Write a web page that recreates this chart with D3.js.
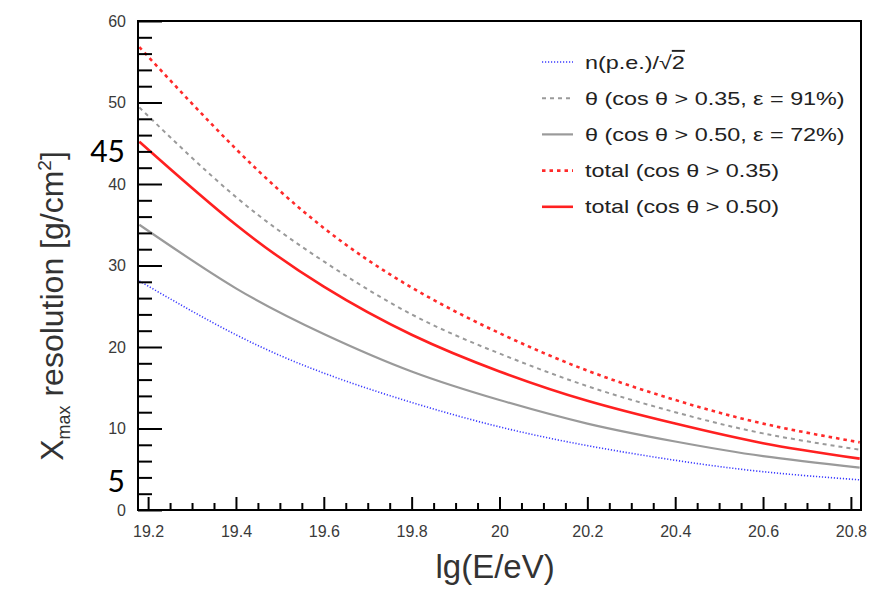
<!DOCTYPE html>
<html>
<head>
<meta charset="utf-8">
<script src="https://cdn.jsdelivr.net/npm/d3@7"></script>
<style>
  body { margin: 0; background: #fff; }
  svg { display: block; font-family: "Liberation Sans", Arial, sans-serif; }
  .tick text { fill: #3a3a3a; font-size: 16px; }
</style>
</head>
<body>
<div id="chart"></div>
<script>
var lgE = [19.18, 19.4, 19.6, 19.8, 20.0, 20.2, 20.4, 20.6, 20.82]

// Xmax resolution in g/cm2
var pe       = [28.1, 21.5, 16.8, 13.2, 10.2, 7.9, 6.1, 4.7, 3.7]
var theta35  = [49.4, 38.4, 30.5, 24.0, 19.2, 15.2, 12.0, 9.4, 7.4]
var theta50  = [35.0, 27.2, 21.6, 17.0, 13.5, 10.6, 8.4, 6.6, 5.2]
var total35  = [56.8, 44.3, 34.6, 27.3, 21.7, 17.1, 13.5, 10.6, 8.3]
var total50  = [45.2, 35.0, 27.4, 21.5, 17.0, 13.4, 10.6, 8.2, 6.3]

var xMajor = [19.2, 19.4, 19.6, 19.8, 20, 20.2, 20.4, 20.6, 20.8]
var yMajor = [0, 10, 20, 30, 40, 50, 60]
// big labels pasted on top of the axis in the original
var extraLabels = [{text: '45', v: 44}, {text: '5', v: 3.5}]

var series = [
  {name: 'pe',      vals: pe,      color: '#3b3bff', width: 1.6, dash: '1.2,1.8'},
  {name: 'theta35', vals: theta35, color: '#9a9a9a', width: 2,   dash: '4,4'},
  {name: 'theta50', vals: theta50, color: '#9a9a9a', width: 2.2, dash: null},
  {name: 'total35', vals: total35, color: '#ff2a2a', width: 2.6, dash: '3.5,4'},
  {name: 'total50', vals: total50, color: '#ff2020', width: 2.6, dash: null}
]

var W = 884, H = 599
var m = {left: 138, right: 23, top: 21, bottom: 89}
var svg = d3.select('#chart').append('svg').attr('width', W).attr('height', H)
var g = svg.append('g').attr('transform', 'translate(' + m.left + ',' + m.top + ')')
var w = W - m.left - m.right, h = H - m.top - m.bottom

var x = d3.scaleLinear().domain([19.177, 20.823]).range([0, w])
var y = d3.scaleLinear().domain([0, 60]).range([h, 0])

// curves
var line = d3.line().x(function(d){ return x(d[0]) }).y(function(d){ return y(d[1]) }).curve(d3.curveNatural)
series.forEach(function(s){
  g.append('path')
    .datum(lgE.map(function(e, i){ return [e, s.vals[i]] }))
    .attr('d', line)
    .attr('fill', 'none')
    .attr('stroke', s.color)
    .attr('stroke-width', s.width)
    .attr('stroke-dasharray', s.dash)
})

// minor ticks
var yMinor = d3.range(0, 61, 2).filter(function(v){ return v % 10 })
var xMinor = d3.range(19.2, 20.81, 0.05).filter(function(v){ return Math.abs(v * 5 - Math.round(v * 5)) > 0.01 })

g.append('g').call(d3.axisLeft(y).tickValues(yMinor).tickSize(-14).tickFormat(''))
g.append('g').call(d3.axisLeft(y).tickValues(yMajor).tickSize(-24).tickPadding(12))
g.append('g').attr('transform', 'translate(0,' + h + ')')
  .call(d3.axisBottom(x).tickValues(xMinor).tickSize(-7).tickFormat(''))
g.append('g').attr('transform', 'translate(0,' + h + ')')
  .call(d3.axisBottom(x).tickValues(xMajor).tickSize(-13).tickPadding(16).tickFormat(d3.format('')))

g.selectAll('.domain').remove()
g.selectAll('.tick line').attr('stroke', '#000').attr('stroke-width', 2)

// frame
g.append('rect').attr('width', w).attr('height', h)
  .attr('fill', 'none').attr('stroke', '#000').attr('stroke-width', 2)

// pasted labels
g.selectAll('text.extra').data(extraLabels).enter().append('text')
  .attr('class', 'extra')
  .attr('x', -13).attr('y', function(d){ return y(d.v) })
  .attr('dy', '0.36em')
  .attr('text-anchor', 'end')
  .style('font-family', 'Lato, "Open Sans", sans-serif')
  .style('font-size', '30px')
  .attr('fill', '#000')
  .text(function(d){ return d.text })

// axis titles
svg.append('text')
  .attr('x', x(19.99) + m.left).attr('y', 578)
  .attr('text-anchor', 'middle')
  .style('font-size', '33px').attr('fill', '#333')
  .text('lg(E/eV)')

var yt = svg.append('text')
  .attr('transform', 'translate(63,306) rotate(-90)')
  .attr('text-anchor', 'middle')
  .style('font-size', '32px').attr('fill', '#333')
yt.append('tspan').text('X')
yt.append('tspan').attr('dy', 7).style('font-size', '18px').text('max')
yt.append('tspan').attr('dy', -7).text(' resolution [g/cm')
yt.append('tspan').attr('dy', -12).style('font-size', '19px').text('2')
yt.append('tspan').attr('dy', 12).text(']')

// legend
var legendLabels = [
  null,
  'θ (cos θ > 0.35, ε = 91%)',
  'θ (cos θ > 0.50, ε = 72%)',
  'total (cos θ > 0.35)',
  'total (cos θ > 0.50)'
]
var leg = svg.append('g').attr('transform', 'translate(542,62)')
series.forEach(function(s, i){
  var row = leg.append('g').attr('transform', 'translate(0,' + (i * 36.2) + ')')
  row.append('line').attr('x1', 0).attr('x2', 31)
    .attr('stroke', s.color).attr('stroke-width', s.width)
    .attr('stroke-dasharray', s.dash)
  // the original lettering is stretched sideways
  var t = row.append('text').attr('transform', 'translate(43,0) scale(1.23,1)').attr('dy', '0.35em')
    .style('font-size', '19px').attr('fill', '#222')
  if (i === 0) {
    t.append('tspan').text('n(p.e.)/√')
    t.append('tspan').style('text-decoration', 'overline').text('2')
  } else {
    t.text(legendLabels[i])
  }
})
</script>
</body>
</html>
